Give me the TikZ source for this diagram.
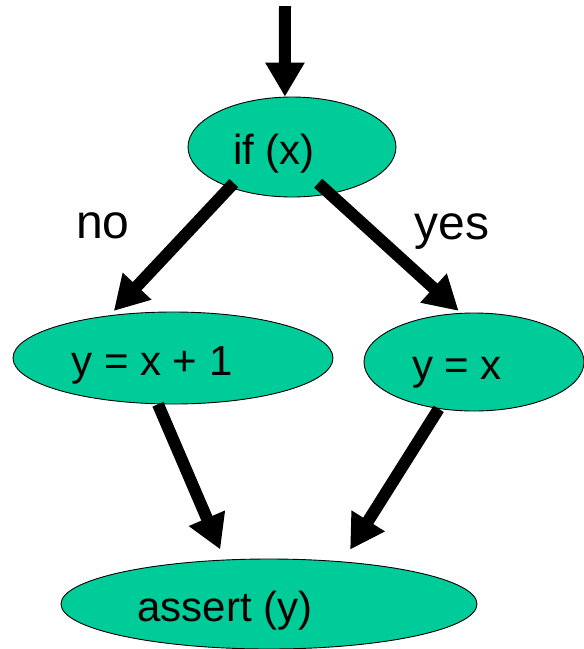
\documentclass[tikz,border=0pt]{standalone}
\usepackage{fontspec}
\setmainfont{Liberation Sans}
\usetikzlibrary{arrows.meta,shapes.geometric}
\definecolor{nodecol}{RGB}{0,204,153}
\tikzset{
  el/.style={ellipse,draw=black,line width=0.9pt,fill=nodecol,inner sep=0pt},
  tx/.style={font=\fontsize{42}{46}\selectfont,text height=30.7pt,text depth=8.8pt,yshift=-7pt},
  lb/.style={font=\fontsize{48}{52}\selectfont,anchor=base},
  fe/.style={-{Triangle[length=34pt,width=37pt]},draw=black,line width=12pt}
}
\begin{document}
\begin{tikzpicture}[x=1pt,y=-1pt]
\useasboundingbox (0,0) rectangle (584,649);
  \coordinate (entry) at (285,6);
  \node[el,minimum width=208pt,minimum height=100pt,label={[tx,xshift=-18pt,name=ifxt]center:if (x)}](ifx) at (292,147){};
  \node[el,minimum width=320pt,minimum height=92pt,label={[tx,xshift=-21pt,name=yxonet]center:y = x + 1}](yxone) at (173,358){};
  \node[el,minimum width=220pt,minimum height=98pt,label={[tx,xshift=-17pt,name=yxt]center:y = x}](yx) at (474,362){};
  \node[el,minimum width=416pt,minimum height=90pt,label={[tx,xshift=-44pt,name=assertt]center:assert (y)}](assert) at (269,604){};
  \node[lb](no) at (103,238){no};
  \node[lb](yes) at (452,239){yes};
  \draw[fe] (entry) -- (ifx.98);
  \draw[fe,shorten <=-6pt,shorten >=6pt] (ifx.213) -- (yxone.146);
  \draw[fe,shorten <=-16pt,shorten >=3pt] (ifx.309) -- (yx.105);
  \draw[fe,shorten >=11pt] (yxone.252) -- (assert.135);
  \draw[fe,shorten >=14pt] (yx.233) -- (assert.30);
\end{tikzpicture}
\end{document}
